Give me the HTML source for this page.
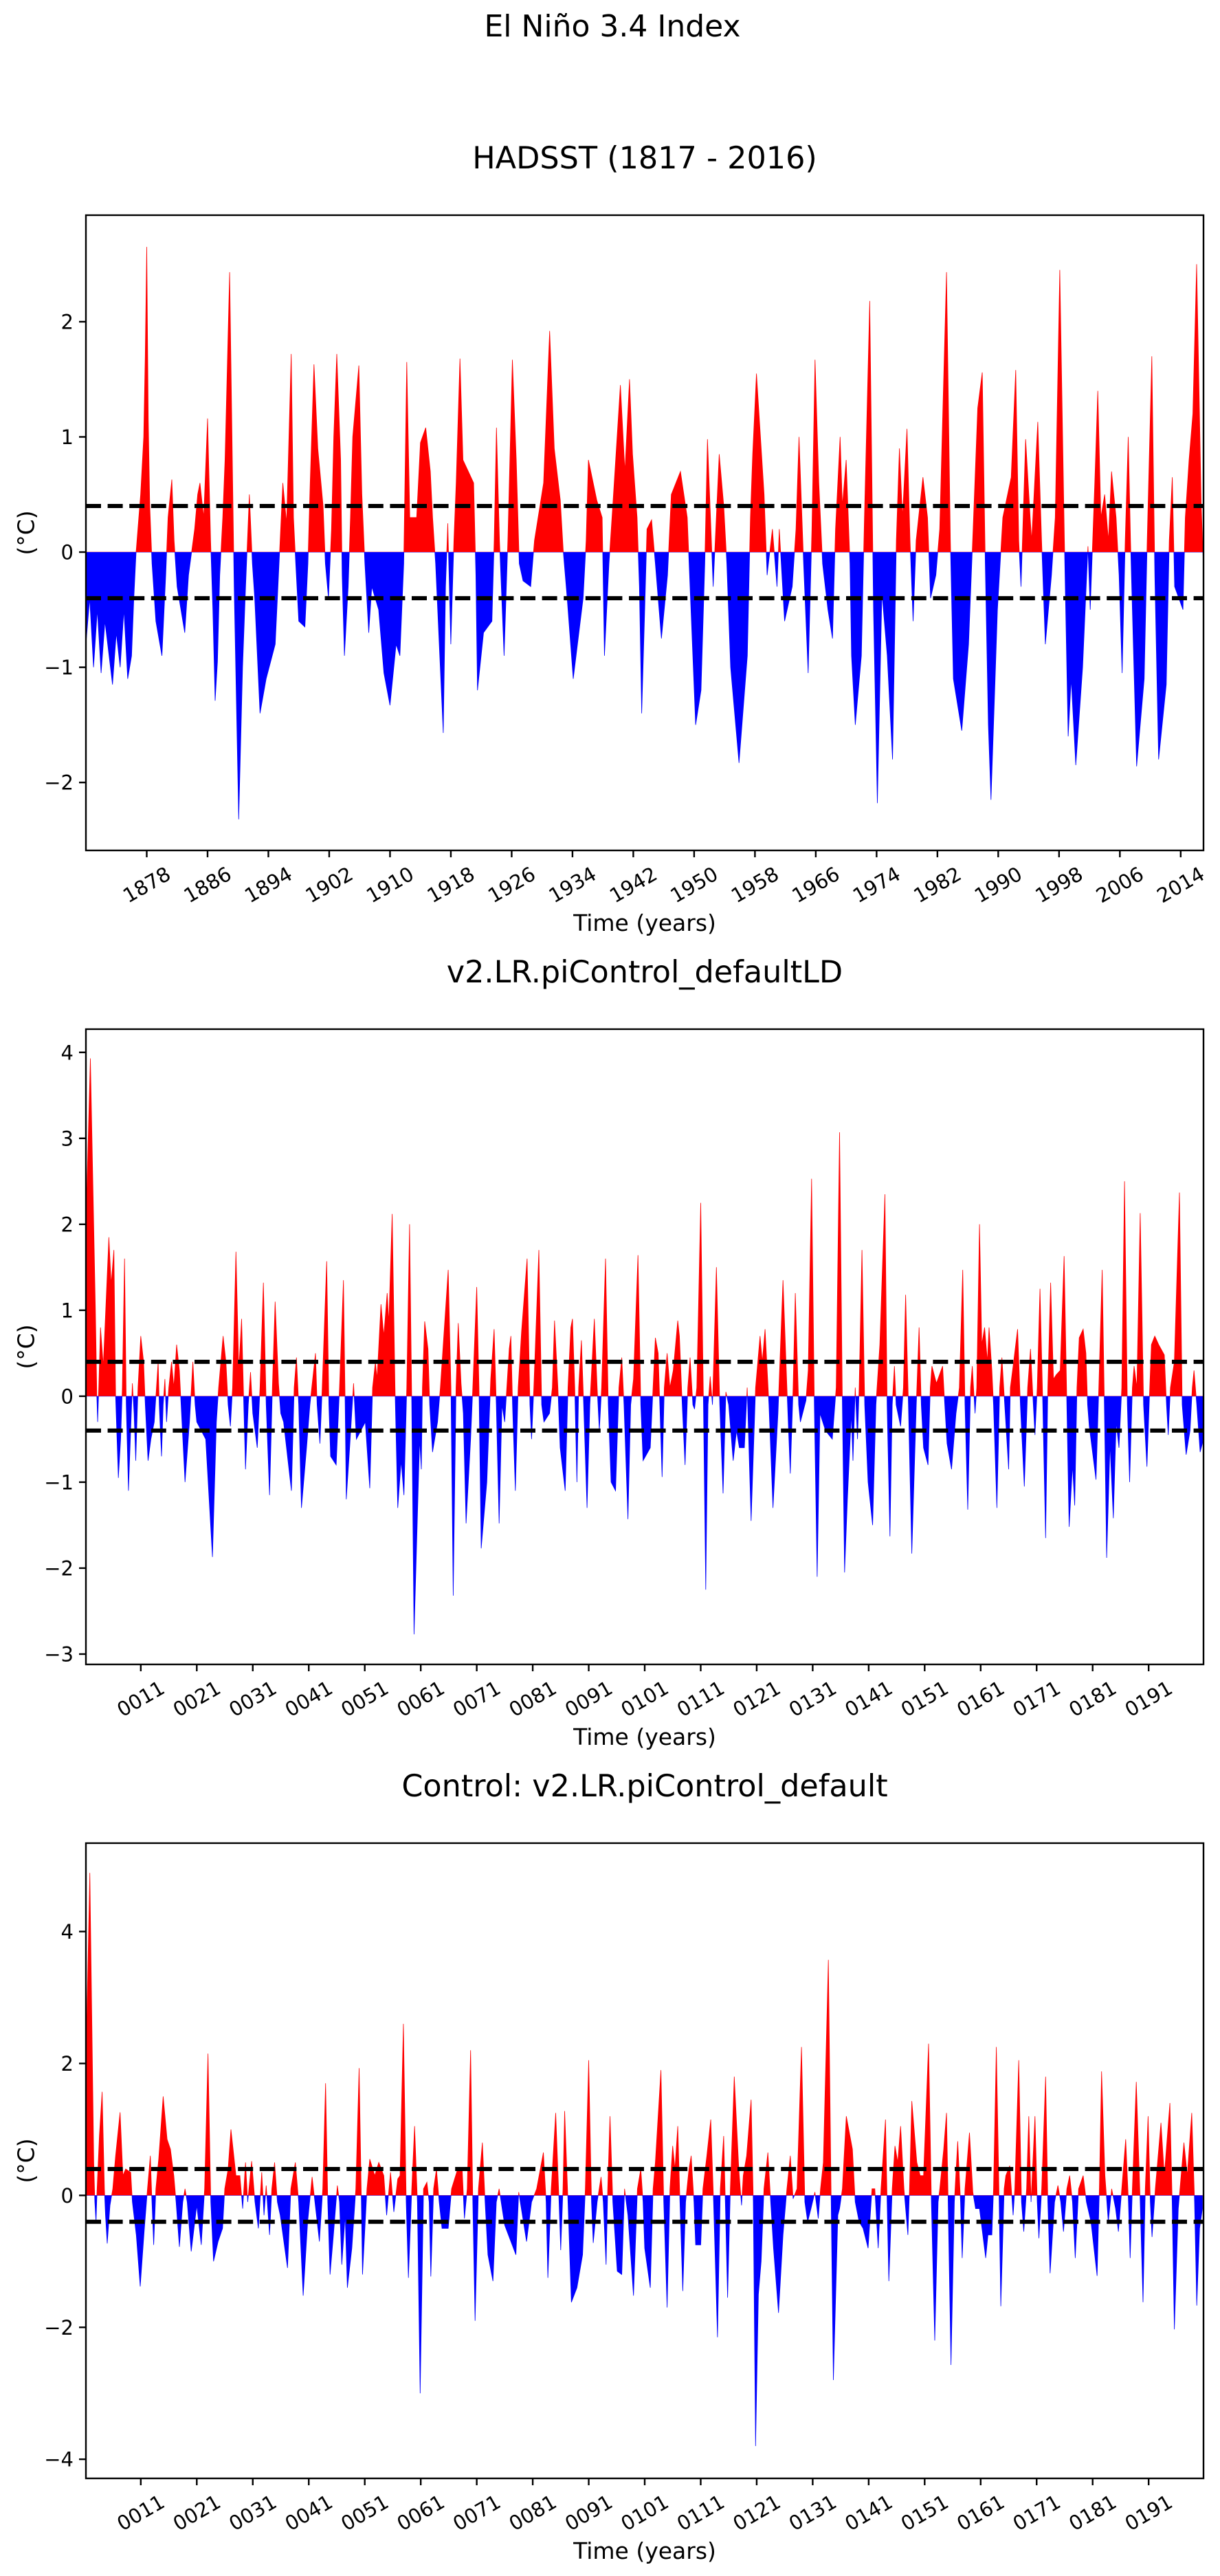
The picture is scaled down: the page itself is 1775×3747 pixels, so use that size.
<!DOCTYPE html>
<html><head><meta charset="utf-8"><title>El Niño 3.4 Index</title>
<style>
html,body{margin:0;padding:0;background:#fff;}
svg{display:block;font-family:"DejaVu Sans","Liberation Sans",sans-serif;}
</style></head>
<body>
<svg id="fig" width="1775" height="3747" viewBox="0 0 1775 3747" xmlns="http://www.w3.org/2000/svg">
<rect width="1775" height="3747" fill="#fff"/>
<text x="891" y="53" font-size="44" text-anchor="middle">El Niño 3.4 Index</text>
</svg>
<script>
// ---------- data ----------
const hadsstSeries=[[1870.0,-0.8],[1870.5,-0.4],[1871,-1.0],[1871.5,-0.5],[1872,-1.05],[1872.5,-0.6],[1873.5,-1.15],[1874,-0.7],[1874.5,-1.0],[1875,-0.5],[1875.5,-1.1],[1876,-0.9],[1876.3,-0.4],[1876.6,0],[1877.2,0.5],[1877.6,1.0],[1877.8,1.7],[1878.0,2.65],[1878.2,1.15],[1878.4,0.4],[1878.7,-0.1],[1879.2,-0.6],[1880,-0.9],[1880.5,-0.2],[1880.8,0.3],[1881.3,0.63],[1881.6,0.1],[1882,-0.3],[1883,-0.7],[1883.5,-0.2],[1884.3,0.2],[1884.7,0.5],[1885,0.6],[1885.5,0.3],[1886,1.16],[1886.4,0.1],[1886.7,-0.5],[1887,-1.29],[1887.3,-0.95],[1887.6,-0.2],[1888,0.3],[1888.3,0.8],[1888.9,2.43],[1889.3,0.6],[1889.5,-0.3],[1890.1,-2.32],[1890.6,-1.0],[1891,-0.3],[1891.5,0.5],[1891.9,-0.1],[1892.2,-0.4],[1892.9,-1.4],[1893.7,-1.1],[1894.9,-0.8],[1895.4,-0.1],[1895.9,0.6],[1896.4,0.25],[1897,1.72],[1897.3,0.3],[1897.6,-0.1],[1898,-0.6],[1898.8,-0.65],[1899.2,-0.1],[1899.5,0.6],[1900,1.63],[1900.5,0.9],[1901.2,0.4],[1901.5,-0.1],[1901.9,-0.4],[1902.3,0.2],[1902.6,1.0],[1903,1.72],[1903.5,0.8],[1903.7,-0.2],[1904,-0.9],[1904.5,-0.3],[1904.8,0.3],[1905.1,1.0],[1905.9,1.62],[1906.3,0.5],[1906.7,-0.1],[1907.2,-0.7],[1907.6,-0.3],[1908.5,-0.5],[1909.2,-1.05],[1910,-1.33],[1910.8,-0.8],[1911.3,-0.9],[1911.8,-0.1],[1912.2,1.65],[1912.6,0.3],[1913.5,0.3],[1914,0.95],[1914.7,1.08],[1915.3,0.7],[1915.6,0.3],[1916,-0.1],[1917,-1.57],[1917.3,-0.3],[1917.6,0.25],[1918,-0.8],[1918.4,0.1],[1918.7,0.6],[1919.2,1.68],[1919.6,0.8],[1920.3,0.7],[1921,0.6],[1921.3,-0.2],[1921.5,-1.2],[1922.3,-0.7],[1923.4,-0.6],[1923.7,0.1],[1924,1.08],[1924.4,0.1],[1925,-0.9],[1925.5,0.1],[1926.1,1.67],[1926.6,0.8],[1927,-0.1],[1927.5,-0.25],[1928.5,-0.3],[1929,0.1],[1930.2,0.6],[1931,1.92],[1931.6,0.9],[1932.4,0.45],[1932.8,0],[1933.3,-0.4],[1934.1,-1.1],[1935.4,-0.4],[1935.8,0.1],[1936.1,0.8],[1937.2,0.45],[1937.9,0.3],[1938,-0.1],[1938.2,-0.9],[1938.8,-0.1],[1939.3,0.4],[1940.3,1.45],[1940.9,0.7],[1941.5,1.5],[1941.9,0.85],[1942.5,0.3],[1942.8,-0.3],[1943.1,-1.4],[1943.5,-0.5],[1943.8,0.2],[1944.4,0.28],[1944.9,-0.1],[1945.7,-0.75],[1946.5,-0.2],[1947,0.5],[1948.2,0.7],[1949.1,0.3],[1949.4,-0.2],[1950.2,-1.5],[1950.9,-1.2],[1951.4,-0.1],[1951.75,0.98],[1952.5,-0.3],[1953.3,0.85],[1953.9,0.4],[1954.3,-0.1],[1954.8,-1.0],[1955.9,-1.83],[1957,-0.9],[1957.4,0.3],[1957.7,0.85],[1958.2,1.55],[1959.2,0.5],[1959.6,-0.2],[1960.3,0.2],[1960.9,-0.3],[1961.2,0.2],[1961.9,-0.6],[1962.9,-0.3],[1963.4,0.2],[1963.8,1.0],[1964.4,-0.1],[1965,-1.05],[1965.5,0.2],[1965.9,1.67],[1966.4,0.6],[1966.9,-0.1],[1967.6,-0.5],[1968.2,-0.75],[1968.6,0.2],[1969.2,1.0],[1969.5,0.4],[1970,0.8],[1970.5,-0.1],[1970.7,-0.9],[1971.2,-1.5],[1972,-0.9],[1972.4,0.3],[1973.1,2.18],[1973.6,-0.5],[1974.1,-2.18],[1974.7,-0.35],[1975.4,-0.9],[1976.1,-1.8],[1976.6,0.1],[1977,0.9],[1977.4,0.3],[1978,1.07],[1978.4,0.1],[1978.8,-0.6],[1979.2,0.1],[1980.1,0.65],[1980.7,0.3],[1981.1,-0.4],[1981.8,-0.2],[1982.3,0.2],[1983.2,2.43],[1983.7,0.1],[1984.1,-1.1],[1985.2,-1.55],[1986.1,-0.8],[1986.7,0.2],[1987.3,1.25],[1987.9,1.56],[1988.3,-0.1],[1988.7,-1.5],[1989.05,-2.15],[1989.9,-0.5],[1990.6,0.3],[1991.7,0.65],[1992.3,1.58],[1992.7,0.1],[1993,-0.3],[1993.6,0.98],[1994.2,0.3],[1994.4,0.1],[1995.2,1.13],[1995.7,0.1],[1996.2,-0.8],[1997,-0.2],[1997.5,0.3],[1998.1,2.45],[1998.7,0.1],[1999.2,-1.6],[1999.6,-1.1],[2000.2,-1.85],[2001.1,-1.0],[2001.8,0.05],[2002.1,-0.5],[2002.7,0.6],[2003.1,1.4],[2003.5,0.3],[2004,0.5],[2004.5,0.1],[2004.9,0.7],[2005.5,0.3],[2005.9,-0.2],[2006.3,-1.05],[2006.7,0.1],[2007.1,1.0],[2007.4,0.1],[2008.2,-1.86],[2009.2,-1.1],[2009.6,0.1],[2010.2,1.7],[2010.6,-0.2],[2011.1,-1.8],[2012.1,-1.15],[2012.5,0.1],[2012.9,0.65],[2013.2,-0.3],[2014.3,-0.5],[2014.6,0.3],[2015.1,0.8],[2015.6,1.2],[2016.1,2.5],[2016.7,0.4],[2017.2,-0.5]];
const ldSeries=[[1.2,2.0],[2.0,3.93],[2.9,1.0],[3.15,0],[3.3,-0.3],[3.5,0.1],[3.8,0.8],[4.3,0.35],[5.3,1.85],[5.7,1.3],[6.2,1.7],[6.5,0],[7.0,-0.95],[7.4,-0.5],[7.7,0.1],[8.1,1.6],[8.4,-0.1],[8.8,-1.1],[9.3,-0.2],[9.5,0.15],[9.8,-0.2],[10.1,-0.75],[10.5,0.1],[11.0,0.7],[11.5,0.4],[11.8,-0.1],[12.3,-0.75],[12.8,-0.5],[13.4,-0.3],[14.1,0.4],[14.3,-0.1],[14.7,-0.7],[15.0,-0.1],[15.3,0.2],[15.6,-0.3],[16.0,0.1],[16.5,0.4],[16.9,0.1],[17.4,0.6],[17.9,0.3],[18.2,-0.1],[18.9,-1.0],[19.7,-0.3],[20.3,0.4],[20.7,-0.1],[21.0,-0.3],[22.6,-0.5],[23.8,-1.87],[24.5,-0.3],[24.9,0.1],[25.7,0.7],[26.2,0.4],[26.6,-0.1],[27.0,-0.35],[27.4,0.1],[28.0,1.68],[28.5,0.3],[29.0,0.9],[29.4,-0.1],[29.7,-0.85],[30.2,-0.1],[30.6,0.28],[31.0,-0.2],[31.8,-0.6],[32.3,0.1],[32.9,1.32],[33.4,-0.1],[34.0,-1.15],[34.5,0.1],[35.0,1.1],[35.6,0.15],[36.0,-0.2],[36.5,-0.3],[37.9,-1.1],[38.4,0.1],[38.8,0.45],[39.2,-0.1],[39.7,-1.3],[40.6,-0.6],[41.2,-0.1],[42.2,0.5],[42.5,-0.1],[43.0,-0.55],[43.4,0.1],[44.2,1.57],[44.6,-0.1],[44.9,-0.7],[45.9,-0.8],[46.5,0.1],[47.2,1.35],[47.5,-0.1],[47.7,-1.2],[48.3,-0.6],[49.0,0.15],[49.5,-0.5],[51.1,-0.3],[51.9,-1.07],[52.4,0.1],[52.9,0.4],[53.2,0.2],[53.9,1.07],[54.4,0.7],[55.0,1.2],[55.3,0.85],[55.9,2.12],[56.4,0.1],[56.9,-1.3],[57.5,-0.75],[58.0,-1.15],[58.5,0.1],[59.0,2.0],[59.4,-0.1],[59.8,-2.77],[60.8,-0.5],[61.1,-0.85],[61.3,0.1],[61.7,0.87],[62.3,0.55],[62.6,-0.1],[63.1,-0.65],[64.0,-0.3],[64.5,0.1],[65.9,1.47],[66.4,0.1],[66.8,-2.32],[67.3,0.1],[67.7,0.85],[68.2,0.15],[68.6,-0.2],[69.1,-1.48],[69.9,-0.5],[70.3,0.1],[71.0,1.27],[71.4,0.1],[71.8,-1.77],[72.8,-1.0],[73.5,0.2],[74.1,0.78],[74.5,-0.1],[75.0,-1.48],[75.5,-0.1],[76.0,-0.3],[76.8,0.55],[77.1,0.7],[77.4,-0.1],[77.9,-1.1],[78.4,0.1],[79.0,0.75],[80.0,1.6],[80.5,-0.1],[80.8,-0.5],[81.2,0.1],[82.1,1.7],[82.6,-0.1],[83.0,-0.3],[84.0,-0.2],[84.5,0.1],[84.9,0.88],[85.5,0.1],[85.9,-0.6],[86.8,-1.1],[87.3,0.1],[87.8,0.8],[88.1,0.9],[88.5,0.1],[88.9,-1.0],[89.2,0.1],[89.7,0.65],[90.1,-0.1],[90.7,-1.3],[91.2,-0.1],[92.0,0.9],[92.5,0.1],[92.9,-0.4],[93.3,0.1],[94.0,1.6],[94.5,-0.1],[95.0,-1.0],[95.8,-1.1],[96.4,0.1],[96.9,0.45],[97.3,-0.1],[98.0,-1.43],[98.5,-0.1],[99.0,0.2],[99.8,1.64],[100.3,-0.1],[100.7,-0.75],[102.0,-0.6],[102.9,0.68],[103.4,0.5],[103.7,-0.1],[104.1,-0.94],[104.5,0.1],[105,0.5],[105.5,0.1],[106.1,0.3],[106.9,0.88],[107.2,0.7],[107.7,-0.1],[108.2,-0.8],[108.7,0.1],[109.1,0.45],[109.6,-0.1],[109.9,-0.15],[110.3,0.1],[111.0,2.25],[111.5,-0.1],[111.9,-2.25],[112.3,-0.1],[112.7,0.23],[113.1,-0.1],[113.8,1.5],[114.4,-0.1],[115.0,-1.13],[115.5,0.05],[116,-0.1],[116.8,-0.75],[117.4,-0.4],[117.9,-0.6],[118.8,-0.6],[119.3,0.1],[120.0,-1.45],[120.8,0.1],[121.6,0.7],[122.0,0.4],[122.5,0.78],[123.2,-0.1],[123.9,-1.3],[124.8,-0.2],[125.7,1.35],[126.4,0.1],[127,-0.9],[127.5,0.1],[127.9,1.2],[128.5,-0.1],[128.8,-0.3],[129.8,-0.05],[130.2,0.3],[130.8,2.53],[131.3,-0.1],[131.8,-2.1],[132.3,-0.2],[133.3,-0.4],[134.5,-0.5],[135.2,0.1],[135.8,3.07],[136.3,-0.1],[136.7,-2.05],[137.2,-1.2],[137.9,-0.2],[138.2,-0.75],[138.6,0.1],[139,-0.5],[139.3,0.1],[139.8,1.7],[140.3,-0.1],[140.9,-1.0],[141.7,-1.5],[142.3,-0.1],[143,0.6],[143.9,2.35],[144.3,-0.1],[144.8,-1.63],[145.2,-0.1],[145.6,0.35],[145.9,-0.1],[146.7,-0.35],[147.2,0.1],[147.6,1.18],[148.1,-0.1],[148.7,-1.83],[149.5,-0.1],[150,0.8],[150.4,-0.1],[150.8,-0.6],[151.6,-0.8],[152,0.1],[152.3,0.35],[153.1,0.15],[154.2,0.35],[154.6,-0.1],[155,-0.55],[155.8,-0.85],[156.6,-0.2],[157.2,0.1],[157.8,1.47],[158.2,-0.1],[158.7,-1.32],[159.2,0.1],[159.5,0.35],[160,-0.2],[160.3,0.1],[160.8,2.0],[161.2,0.6],[161.7,0.8],[162.2,0.4],[162.5,0.8],[163,0.3],[163.3,-0.1],[163.9,-1.3],[164.4,0.1],[164.8,0.45],[165.3,-0.1],[166,-0.85],[166.3,0.1],[166.8,0.35],[167.6,0.78],[168.1,-0.1],[168.8,-1.05],[169.4,0.1],[169.9,0.55],[170.4,-0.1],[170.7,-0.45],[171.1,0.1],[171.6,1.25],[172.1,-0.1],[172.6,-1.65],[173,0.1],[173.5,1.32],[174,0.2],[174.5,0.25],[175.2,0.3],[175.9,1.63],[176.4,-0.1],[176.8,-1.52],[177.4,-0.8],[177.8,-1.27],[178.2,0.1],[178.6,0.68],[179.3,0.78],[179.8,0.5],[180.1,-0.1],[180.4,-0.35],[181.6,-0.97],[182.1,0.1],[182.7,1.47],[183.1,-0.1],[183.5,-1.88],[184.1,-0.55],[184.7,-1.42],[185.2,-0.3],[185.7,-0.6],[186.2,0.1],[186.7,2.5],[187.2,-0.1],[187.6,-1.0],[188.1,0.1],[188.4,0.35],[188.9,0.1],[189.5,2.13],[190.1,-0.1],[190.7,-0.82],[191.2,0.1],[191.5,0.6],[192.1,0.7],[192.8,0.6],[193.8,0.48],[194.2,-0.1],[194.5,-0.45],[194.9,0.1],[195.6,0.4],[196.5,2.37],[197,-0.1],[197.7,-0.68],[198.4,-0.4],[198.8,0.1],[199.1,0.3],[199.6,-0.1],[200.2,-0.65],[200.8,-0.5]];
const ctrlSeries=[[1.2,2.0],[1.9,4.89],[2.6,0.5],[2.8,-0.1],[3.0,-0.4],[3.2,0.1],[3.6,0.9],[4.1,1.57],[4.5,0.1],[4.7,-0.3],[5.0,-0.73],[5.5,-0.15],[6.0,0.1],[6.5,0.6],[7.3,1.26],[7.8,0.3],[8.3,0.4],[9.2,0.35],[9.5,-0.1],[10.2,-0.6],[10.9,-1.38],[11.6,-0.55],[12.2,0.1],[12.7,0.6],[13.0,-0.1],[13.3,-0.75],[13.7,0.1],[14.2,0.55],[15.0,1.5],[15.7,0.85],[16.3,0.7],[16.9,0.3],[17.3,-0.1],[17.9,-0.78],[18.5,-0.1],[18.9,0.1],[19.3,-0.1],[20.0,-0.85],[21.0,-0.15],[21.8,-0.75],[22.4,0.1],[23.0,2.15],[23.5,-0.1],[24.0,-1.0],[24.8,-0.7],[25.6,-0.5],[26.0,0.1],[26.6,0.4],[27.1,1.0],[28.0,0.3],[28.7,0.3],[29.2,-0.2],[29.7,0.5],[30.1,-0.1],[30.8,0.52],[31.4,-0.1],[32.0,-0.5],[32.6,0.35],[33.0,-0.3],[33.4,0.15],[34.0,-0.6],[34.4,0.1],[34.9,0.5],[35.4,-0.1],[35.9,-0.3],[37.2,-1.1],[37.8,0.1],[38.6,0.5],[39.2,-0.1],[40.0,-1.52],[40.8,-0.4],[41.6,0.28],[42.1,-0.1],[42.9,-0.7],[43.5,0.1],[44.0,1.7],[44.4,-0.1],[44.8,-1.2],[45.4,-0.6],[46.1,0.15],[46.5,-0.1],[46.9,-1.05],[47.5,-0.3],[47.9,-1.4],[48.7,-0.8],[49.4,0.1],[50.0,1.93],[50.4,-0.1],[50.6,-1.2],[51.4,0.1],[51.9,0.55],[52.8,0.3],[53.5,0.5],[54.4,0.3],[54.9,-0.3],[55.6,0.35],[56.2,-0.25],[56.9,0.25],[57.3,0.3],[57.9,2.6],[58.4,-0.1],[58.8,-1.25],[59.4,0.1],[59.9,1.05],[60.4,-0.1],[60.9,-3.0],[61.5,0.1],[62.1,0.2],[62.5,-0.1],[62.8,-1.23],[63.3,0.1],[63.8,0.4],[64.3,-0.1],[64.8,-0.5],[65.9,-0.5],[66.5,0.1],[67.6,0.4],[68.4,0.4],[68.8,-0.35],[69.3,0.1],[69.9,2.2],[70.3,-0.1],[70.7,-1.9],[71.3,0.1],[72.0,0.8],[72.5,-0.1],[73.0,-0.9],[73.9,-1.3],[74.5,-0.1],[75.0,0.1],[76.0,-0.45],[78.0,-0.9],[78.5,0.05],[79.9,-0.7],[80.8,-0.1],[81.7,0.1],[82.9,0.65],[83.4,-0.1],[83.7,-1.25],[84.3,0.1],[85.1,1.25],[85.7,-0.1],[86.0,-0.83],[86.4,0.1],[86.7,1.28],[87.3,-0.1],[87.9,-1.62],[88.9,-1.4],[89.9,-0.9],[90.4,0.1],[91.0,2.05],[91.5,-0.1],[91.8,-0.72],[92.5,-0.1],[93.2,0.28],[93.6,-0.1],[94.1,-1.05],[94.4,0.1],[94.8,1.2],[95.3,-0.1],[96.1,-1.15],[96.9,-1.2],[97.4,0.1],[98.0,-0.3],[99.0,-1.52],[99.7,0.1],[100.3,0.4],[100.7,-0.1],[101.0,-0.8],[102.0,-1.4],[102.5,0.1],[102.9,0.5],[103.9,1.9],[104.4,-0.1],[105.0,-1.7],[105.5,0.1],[106.0,0.75],[106.4,0.4],[106.9,1.05],[107.3,-0.1],[107.8,-1.45],[108.3,-0.1],[108.9,0.4],[109.3,0.6],[109.8,-0.1],[110.1,-0.75],[111.0,-0.75],[111.4,0.1],[112.1,0.6],[112.8,1.15],[113.3,-0.1],[114.0,-2.15],[114.5,0.1],[115.1,0.9],[115.4,-0.1],[115.8,-1.55],[116.3,0.1],[117.0,1.8],[117.8,0.4],[118.3,-0.15],[118.6,0.3],[119.2,0.6],[120.0,1.45],[120.4,-0.1],[120.8,-3.8],[121.3,-1.5],[121.8,-1.0],[122.3,0.1],[123.0,0.65],[123.5,-0.1],[124.0,-0.8],[124.9,-1.78],[125.7,-0.6],[126.4,0.1],[127.0,0.6],[127.5,-0.05],[128.2,0.1],[129.0,2.25],[129.6,-0.1],[130.1,-0.4],[130.7,-0.2],[131.4,0.05],[132.0,-0.35],[132.4,0.1],[132.9,0.5],[133.8,3.57],[134.3,-0.1],[134.7,-2.8],[135.5,-0.3],[135.8,-0.2],[136.3,0.1],[137.0,1.2],[138.1,0.7],[138.6,-0.1],[139.3,-0.4],[140,-0.5],[140.9,-0.8],[141.6,0.1],[142.1,0.1],[142.7,-0.8],[143.2,0.1],[144.0,1.15],[144.3,-0.1],[144.6,-1.3],[145.2,0.1],[145.7,0.75],[146.2,0.5],[146.7,1.05],[147.3,0.1],[148.0,-0.6],[148.3,0.1],[148.7,1.43],[149.6,0.5],[150.2,0.3],[150.8,0.3],[151.7,2.3],[152.2,-0.1],[152.8,-2.2],[153.4,-0.1],[153.7,0.1],[154.4,0.7],[154.9,1.25],[155.2,-0.1],[155.7,-2.57],[156.3,-0.1],[156.9,0.82],[157.4,-0.1],[157.7,-0.95],[158.2,0.1],[159.0,0.95],[159.6,0.05],[160.1,-0.2],[160.8,-0.2],[161.9,-0.95],[162.3,-0.6],[163.0,-0.6],[163.3,0.1],[163.8,2.25],[164.3,-0.1],[164.6,-1.68],[165.2,0.1],[165.5,0.3],[166.2,0.45],[166.8,-0.3],[167.1,0.1],[167.8,2.05],[168.3,-0.1],[168.7,-0.55],[169.2,0.1],[169.6,1.2],[170.0,-0.1],[170.7,1.2],[171.1,-0.1],[171.4,-0.65],[171.9,0.1],[172.6,1.8],[173.0,-0.1],[173.4,-1.18],[174.2,-0.1],[174.8,0.15],[175.3,-0.1],[175.8,-0.55],[176.4,0.1],[176.9,0.3],[177.4,-0.1],[177.9,-0.95],[178.5,0.1],[179.3,0.3],[179.9,-0.1],[180.7,-0.4],[181.8,-1.22],[182.2,0.1],[182.6,1.88],[183.2,0.3],[183.8,-0.4],[184.4,0.1],[185.1,-0.2],[185.6,-0.55],[186.2,0.1],[186.9,0.85],[187.4,-0.1],[187.7,-0.95],[188.1,0.1],[188.8,1.72],[189.5,-0.1],[190.0,-1.62],[190.4,0.1],[190.9,1.2],[191.3,-0.1],[191.6,-0.63],[192.2,0.1],[193.2,1.1],[193.8,0.3],[194.8,1.4],[195.2,-0.1],[195.6,-2.03],[196.3,-0.2],[196.6,0.1],[197.3,0.8],[197.9,0.3],[198.7,1.25],[199.2,-0.1],[199.6,-1.67],[200.1,-0.5],[200.6,-0.2]];
const hadsstXTicks=[1878,1886,1894,1902,1910,1918,1926,1934,1942,1950,1958,1966,1974,1982,1990,1998,2006,2014];
const modelXTicks=[11,21,31,41,51,61,71,81,91,101,111,121,131,141,151,161,171,181,191];
const hadsstYTicks=[-2,-1,0,1,2];
const ldYTicks=[-3,-2,-1,0,1,2,3,4];
const ctrlYTicks=[-4,-2,0,2,4];
const thresholds=[0.4,-0.4];

const NS="http://www.w3.org/2000/svg";
const svg=document.getElementById('fig');
function mk(tag,attrs,parent){const e=document.createElementNS(NS,tag);for(const k in attrs)e.setAttribute(k,attrs[k]);(parent||svg).appendChild(e);return e;}

function drawPanel(id,cfg){
  const L=125,R=1751,T=cfg.top,B=cfg.top+924;
  const xs=t=>L+(t-cfg.xmin)/(cfg.xmax-cfg.xmin)*(R-L);
  const ys=v=>T+(cfg.ymax-v)/(cfg.ymax-cfg.ymin)*(B-T);
  const g=mk('g',{});
  
  
  const y0=ys(0);
  const defs=mk('defs',{},g);
  const cpA=mk('clipPath',{id:id+'-above'},defs);
  mk('rect',{x:L,y:T,width:R-L,height:y0-T},cpA);
  const cpB=mk('clipPath',{id:id+'-below'},defs);
  mk('rect',{x:L,y:y0,width:R-L,height:B-y0},cpB);
  const cpP=mk('clipPath',{id:id+'-plot'},defs);
  mk('rect',{x:L,y:T,width:R-L,height:B-T},cpP);
  const s=cfg.series;
  let d='M'+xs(s[0][0]).toFixed(1)+','+y0.toFixed(1);
  for(const p of s)d+='L'+xs(p[0]).toFixed(1)+','+ys(p[1]).toFixed(1);
  d+='L'+xs(s[s.length-1][0]).toFixed(1)+','+y0.toFixed(1)+'Z';
  const pg=mk('g',{'clip-path':'url(#'+id+'-plot)'},g);
  const pos=mk('path',{d:d,fill:'#ff0000',stroke:'#ff0000','stroke-width':'0.8','clip-path':'url(#'+id+'-above)'},pg);
  
  
  const neg=mk('path',{d:d,fill:'#0000ff',stroke:'#0000ff','stroke-width':'0.8','clip-path':'url(#'+id+'-below)'},pg);
  
  
  for(const th of thresholds){
    const ln=mk('line',{x1:L,x2:R,y1:ys(th),y2:ys(th),stroke:'#000','stroke-width':'6','stroke-dasharray':'22 9.6'},pg);
    
    
  }
  const fr=mk('rect',{x:L,y:T,width:R-L,height:B-T,fill:'none',stroke:'#000','stroke-width':'2.4'},g);
  
  
  for(const t of cfg.xticks){
    const x=xs(t);
    const tk=mk('line',{x1:x,x2:x,y1:B,y2:B+10,stroke:'#000','stroke-width':'2.4'},g);
    
    
    const cy=B+50;
    const tx=mk('text',{x:x,y:cy+10,'font-size':'29','text-anchor':'middle',transform:'rotate(-30 '+x+' '+cy+')'},g);
    
    
    tx.textContent=cfg.xfmt(t);
  }
  for(const v of cfg.yticks){
    const y=ys(v);
    const tk=mk('line',{x1:L-10,x2:L,y1:y,y2:y,stroke:'#000','stroke-width':'2.4'},g);
    
    
    const tx=mk('text',{x:L-18,y:y+10.5,'font-size':'29','text-anchor':'end'},g);
    
    
    tx.textContent=v<0?'\u2212'+Math.abs(v):String(v);
  }
  const ti=mk('text',{x:(L+R)/2,y:T-68,'font-size':'44.5','text-anchor':'middle'},g);
  
  
  ti.textContent=cfg.title;
  const xl=mk('text',{x:(L+R)/2,y:B+117,'font-size':'33','text-anchor':'middle'},g);
  
  
  xl.textContent='Time (years)';
  const cy=(T+B)/2;
  const yl=mk('text',{x:38,y:cy,'font-size':'33','text-anchor':'middle','dominant-baseline':'central',transform:'rotate(-90 38 '+cy+')'},g);
  
  
  yl.textContent='(°C)';
}
const pad=t=>String(t).padStart(4,'0');
drawPanel('hadsst',{top:313,xmin:1870.0,xmax:2017.0,ymin:-2.59,ymax:2.925,series:hadsstSeries,xticks:hadsstXTicks,yticks:hadsstYTicks,xfmt:String,title:'HADSST (1817 - 2016)'});
drawPanel('picontrol-ld',{top:1497,xmin:1.2,xmax:200.8,ymin:-3.12,ymax:4.27,series:ldSeries,xticks:modelXTicks,yticks:ldYTicks,xfmt:pad,title:'v2.LR.piControl_defaultLD'});
drawPanel('picontrol-default',{top:2681,xmin:1.2,xmax:200.8,ymin:-4.29,ymax:5.34,series:ctrlSeries,xticks:modelXTicks,yticks:ctrlYTicks,xfmt:pad,title:'Control: v2.LR.piControl_default'});
</script>
</body></html>
